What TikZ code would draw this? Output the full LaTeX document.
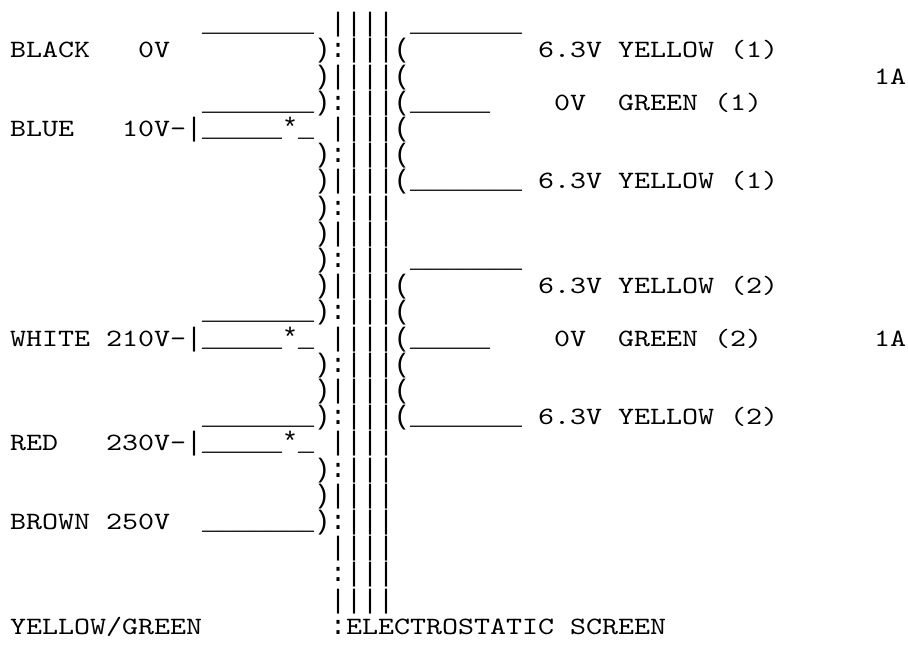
\documentclass[tikz,border=0pt]{standalone}
\usepackage{fontspec}
\usepackage{tikz}
\newfontfamily\asciifont{lmmono10-regular.otf}[FakeStretch=1.224]
\newfontfamily\linefont{Liberation Mono}
\tikzstyle{glyph} = [anchor=base west, inner sep=0pt, outer sep=0pt, yshift=-7.6pt, font=\asciifont\fontsize{24.9}{26.2}\selectfont]
\tikzstyle{wire} = [glyph, font=\linefont\fontsize{26.67}{26.2}\selectfont]
\newcommand{\leadlong}{\_\_\_\_\_\_\_}
\newcommand{\leadshort}{\_\_\_\_\_}

\begin{document}
\begin{tikzpicture}[x=16pt, y=-26.2pt]
    \fill[white] (-10pt,-622pt) rectangle (898pt,24pt);

    \node[wire] (black-lead) at (12,0) {\leadlong};
    \node[glyph] (black) at (0,1) {BLACK};
    \node[glyph] (black-v) at (8,1) {0V};
    \node[wire] (blue-lead) at (12,3) {\leadlong};
    \node[glyph] (blue) at (0,4) {BLUE};
    \node[glyph] (blue-v) at (7,4) {10V-};
    \node[wire] (blue-tap) at (11,4) {|\leadshort*\_};
    \node[wire] (white-lead) at (12,11) {\leadlong};
    \node[glyph] (white) at (0,12) {WHITE};
    \node[glyph] (white-v) at (6,12) {210V-};
    \node[wire] (white-tap) at (11,12) {|\leadshort*\_};
    \node[wire] (red-lead) at (12,15) {\leadlong};
    \node[glyph] (red) at (0,16) {RED};
    \node[glyph] (red-v) at (6,16) {230V-};
    \node[wire] (red-tap) at (11,16) {|\leadshort*\_};
    \node[glyph] (brown) at (0,19) {BROWN};
    \node[glyph] (brown-v) at (6,19) {250V};
    \node[wire] (brown-lead) at (12,19) {\leadlong};
    \node[glyph] (earth) at (0,23) {YELLOW/GREEN};
    \node[glyph] (screen) at (21,23) {ELECTROSTATIC SCREEN};

    \node[wire] (heater1-lead) at (25,0) {\leadlong};
    \node[glyph] (heater1-a) at (33,1) {6.3V YELLOW (1)};
    \node[glyph] (heater1-amp) at (54,2) {1A};
    \node[wire] (heater1-ct-lead) at (25,3) {\leadshort};
    \node[glyph] (heater1-ct-v) at (34,3) {0V};
    \node[glyph] (heater1-ct) at (38,3) {GREEN (1)};
    \node[wire] (heater1-b-lead) at (25,6) {\leadlong};
    \node[glyph] (heater1-b) at (33,6) {6.3V YELLOW (1)};
    \node[wire] (heater2-lead) at (25,9) {\leadlong};
    \node[glyph] (heater2-a) at (33,10) {6.3V YELLOW (2)};
    \node[wire] (heater2-ct-lead) at (25,12) {\leadshort};
    \node[glyph] (heater2-ct-v) at (34,12) {0V};
    \node[glyph] (heater2-ct) at (38,12) {GREEN (2)};
    \node[glyph] (heater2-amp) at (54,12) {1A};
    \node[wire] (heater2-b-lead) at (25,15) {\leadlong};
    \node[glyph] (heater2-b) at (33,15) {6.3V YELLOW (2)};

    \foreach \r in {1,2,3,5,6,7,8,9,10,11,13,14,15,17,18,19}
        \node[wire] (pri-\r) at (19,\r) {)};
    \foreach \r in {0,2,...,22}
        \node[wire] (scr-\r) at (20,\r) {|};
    \foreach \r in {1,3,...,23}
        \node[wire] (scr-\r) at (20,\r) {:};
    \foreach \r in {0,...,22}
        \node[wire] (core-\r) at (21,\r) {|||};
    \foreach \r in {1,2,3,4,5,6,10,11,12,13,14,15}
        \node[wire] (sec-\r) at (24,\r) {(};
\end{tikzpicture}
\end{document}
